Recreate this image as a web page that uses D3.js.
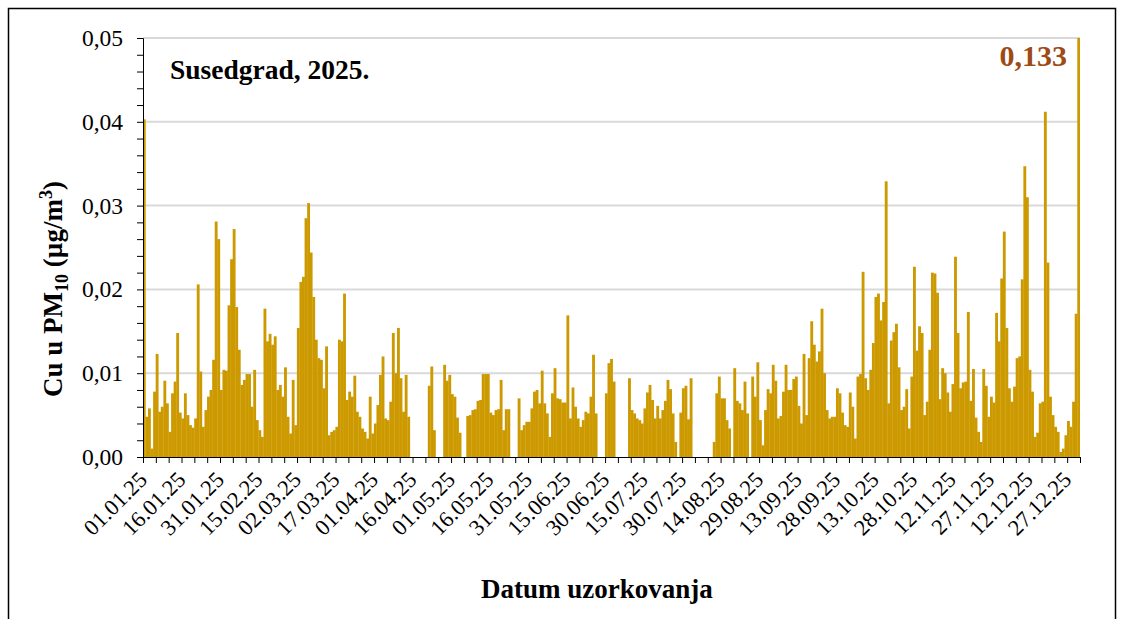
<!DOCTYPE html>
<html>
<head>
<meta charset="utf-8">
<script src="https://cdn.jsdelivr.net/npm/d3@7"></script>
<style>
html,body{margin:0;padding:0;background:#fff;}
svg{display:block;}
</style>
</head>
<body>
<svg id="chart" width="1123" height="619"></svg>
<script>
// Daily Cu concentration in PM10 (µg/m³), Susedgrad 2025 — one array per month, null = no sample
const jan = [0.0403,0.0048,0.0058,0.0010,0.0078,0.0123,0.0054,0.0060,0.0091,0.0064,0.0030,0.0076,0.0090,0.0148,0.0053,0.0046,0.0076,0.0050,0.0038,0.0035,0.0046,0.0206,0.0102,0.0036,0.0056,0.0072,0.0080,0.0116,0.0281,0.0260,0.0080];
const feb = [0.0104,0.0103,0.0181,0.0236,0.0272,0.0179,0.0128,0.0086,0.0092,0.0099,0.0099,0.0060,0.0104,0.0044,0.0032,0.0024,0.0177,0.0138,0.0147,0.0134,0.0144,0.0080,0.0086,0.0072,0.0107,0.0048,0.0028,0.0092];
const mar = [0.0038,0.0154,0.0209,0.0215,0.0285,0.0303,0.0244,0.0191,0.0140,0.0118,0.0116,0.0082,0.0132,0.0026,0.0030,0.0032,0.0036,0.0140,0.0138,0.0195,0.0068,0.0078,0.0072,0.0097,0.0054,0.0048,0.0034,0.0030,0.0022,0.0072,0.0028];
const apr = [0.0040,0.0062,0.0098,0.0120,0.0046,0.0044,0.0066,0.0148,0.0100,0.0154,0.0094,0.0054,0.0098,0.0048,null,null,null,null,null,null,null,0.0085,0.0108,0.0032,null,null,null,0.0110,0.0091,0.0098];
const may = [0.0075,0.0072,0.0047,0.0029,null,null,0.0049,0.0050,0.0056,0.0057,0.0067,0.0068,0.0099,0.0099,0.0099,0.0053,0.0050,0.0056,0.0057,0.0092,0.0032,0.0057,0.0057,null,null,null,0.0070,0.0032,0.0038,0.0042,0.0042];
const jun = [0.0058,0.0078,0.0080,0.0064,0.0103,0.0064,0.0052,0.0024,0.0076,0.0106,0.0070,0.0069,0.0065,0.0065,0.0169,0.0046,0.0083,0.0060,0.0046,0.0036,0.0044,0.0054,0.0052,0.0072,0.0122,0.0052,null,null,null,0.0076];
const jul = [0.0112,0.0117,0.0090,null,null,null,null,null,0.0094,0.0056,0.0052,0.0046,0.0044,0.0040,0.0058,0.0077,0.0086,0.0068,0.0046,0.0061,0.0046,0.0056,0.0067,0.0092,0.0081,0.0052,0.0018,null,0.0053,0.0082,0.0085];
const aug = [0.0045,0.0094,null,null,null,null,null,null,null,null,0.0018,0.0076,0.0096,0.0070,0.0070,0.0044,0.0034,null,0.0106,0.0067,0.0064,0.0056,0.0090,0.0052,null,0.0096,0.0072,0.0113,0.0044,0.0014,0.0056];
const sep = [0.0081,0.0076,0.0110,0.0091,0.0046,0.0049,0.0078,0.0110,0.0080,0.0080,0.0093,0.0096,0.0061,0.0040,0.0123,0.0050,0.0118,0.0162,0.0134,0.0114,0.0126,0.0177,0.0100,0.0056,0.0046,0.0048,0.0048,0.0082,0.0076,0.0053];
const oct = [0.0038,0.0036,0.0077,0.0060,0.0022,0.0096,0.0099,0.0221,0.0094,0.0080,0.0104,0.0136,0.0191,0.0195,0.0163,0.0185,0.0329,0.0064,0.0139,0.0149,0.0159,0.0107,0.0056,0.0060,0.0081,0.0034,0.0096,0.0227,0.0127,0.0156,0.0148];
const nov = [0.0050,0.0066,0.0128,0.0220,0.0219,0.0196,0.0069,0.0106,0.0100,0.0077,0.0054,0.0087,0.0239,0.0148,0.0082,0.0089,0.0090,0.0173,0.0067,0.0105,0.0047,0.0030,0.0018,0.0105,0.0085,0.0048,0.0072,0.0065,0.0172,0.0138];
const dec = [0.0213,0.0269,0.0154,0.0082,0.0066,0.0084,0.0118,0.0120,0.0212,0.0347,0.0310,0.0104,0.0078,0.0024,0.0029,0.0064,0.0066,0.0412,0.0232,0.0072,0.0050,0.0036,0.0030,0.0006,0.0010,0.0026,0.0043,0.0036,0.0066,0.0171,0.133];

// Date labels shown every 15 days on the category axis
const dateLabels = ["01.01.25","16.01.25","31.01.25","15.02.25","02.03.25","17.03.25","01.04.25","16.04.25","01.05.25","16.05.25","31.05.25","15.06.25","30.06.25","15.07.25","30.07.25","14.08.25","29.08.25","13.09.25","28.09.25","13.10.25","28.10.25","12.11.25","27.11.25","12.12.25","27.12.25"];
const yMajorTicks = [0, 0.01, 0.02, 0.03, 0.04, 0.05];

const titleText = "Susedgrad, 2025.";
const xTitle = "Datum uzorkovanja";

const values = [].concat(jan, feb, mar, apr, may, jun, jul, aug, sep, oct, nov, dec);
const nDays = values.length;
const peak = d3.max(values);
const peakIndex = values.indexOf(peak);

const plot = {left: 143, right: 1080, top: 38, bottom: 457};
const serif = "'Liberation Serif','Times New Roman',serif";
const barColor = "#CC9A00";

const svg = d3.select("#chart");

// outer frame
svg.append("rect")
  .attr("x", 8.5).attr("y", 8.5)
  .attr("width", 1107).attr("height", 640)
  .attr("fill", "none").attr("stroke", "#000").attr("stroke-width", 1.5);

const x = d3.scaleLinear().domain([0, nDays]).range([plot.left, plot.right]);
const y = d3.scaleLinear().domain([0, 0.05]).range([plot.bottom, plot.top]);

// horizontal gridlines
svg.append("g")
  .selectAll("line")
  .data(yMajorTicks.filter(d => d > 0))
  .join("line")
  .attr("x1", plot.left).attr("x2", plot.right)
  .attr("y1", d => y(d)).attr("y2", d => y(d))
  .attr("stroke", "#D9D9D9").attr("stroke-width", 2);

svg.append("clipPath").attr("id", "plotClip")
  .append("rect")
  .attr("x", plot.left).attr("y", plot.top)
  .attr("width", plot.right - plot.left).attr("height", plot.bottom - plot.top);

const step = x(1) - x(0);
svg.append("g")
  .attr("clip-path", "url(#plotClip)")
  .selectAll("rect")
  .data(values.map((v, i) => ({i, v})).filter(d => d.v !== null))
  .join("rect")
  .attr("x", d => x(d.i) - 0.15)
  .attr("width", step + 0.3)
  .attr("y", d => y(d.v))
  .attr("height", d => plot.bottom - y(d.v))
  .attr("fill", barColor);

// y axis with minor ticks every 0.002
const fmt = d => d3.format(".2f")(d).replace(".", ",");
const fmt3 = v => d3.format(".3f")(v).replace(".", ",");
const yAxis = d3.axisLeft(y)
  .tickValues(d3.range(0, 26).map(k => k * 0.002))
  .tickFormat(d => (Math.round(d * 1000) % 10 === 0 ? fmt(d) : ""))
  .tickSize(6)
  .tickPadding(14);
const gy = svg.append("g").attr("transform", `translate(${plot.left},0)`).call(yAxis);
gy.select(".domain").attr("stroke", "#000");
gy.selectAll(".tick line").attr("stroke", "#000");
gy.selectAll("text").attr("font-family", serif).attr("font-size", 23.5).attr("fill", "#000");

// x axis: ticks every 5 days, labels every 15 days
const xAxis = d3.axisBottom(x)
  .tickValues(d3.range(0, nDays + 1, 5))
  .tickFormat(d => (d % 15 === 0 && d / 15 < dateLabels.length ? dateLabels[d / 15] : ""))
  .tickSize(6)
  .tickSizeOuter(0);
const gx = svg.append("g").attr("transform", `translate(0,${plot.bottom})`).call(xAxis);
gx.select(".domain").attr("stroke", "#000");
gx.selectAll(".tick line").attr("stroke", "#000");
gx.selectAll("text")
  .attr("font-family", serif).attr("font-size", 22.5).attr("fill", "#000")
  .attr("text-anchor", "end")
  .attr("x", 0).attr("y", 0).attr("dy", 0)
  .attr("transform", "translate(5,24) rotate(-45)");

// chart title inside the plot
svg.append("text")
  .attr("x", 170).attr("y", 79)
  .attr("font-family", serif).attr("font-size", 27.5).attr("font-weight", "bold")
  .text(titleText);

// value of the off-scale bar
svg.append("text")
  .attr("x", x(peakIndex + 1) - 13).attr("y", 66)
  .attr("text-anchor", "end")
  .attr("font-family", serif).attr("font-size", 30).attr("font-weight", "bold")
  .attr("fill", "#9E4A16")
  .text(fmt3(peak));

// axis titles
svg.append("text")
  .attr("x", 597).attr("y", 598)
  .attr("text-anchor", "middle")
  .attr("font-family", serif).attr("font-size", 27).attr("font-weight", "bold")
  .text(xTitle);

const yt = svg.append("text")
  .attr("transform", "translate(62,289) rotate(-90)")
  .attr("text-anchor", "middle")
  .attr("font-family", serif).attr("font-size", 27).attr("font-weight", "bold");
yt.append("tspan").text("Cu u PM");
yt.append("tspan").attr("font-size", 18).attr("dy", 6).text("10");
yt.append("tspan").attr("dy", -6).text(" (µg/m");
yt.append("tspan").attr("font-size", 18).attr("dy", -10).text("3");
yt.append("tspan").attr("dy", 10).text(")");
</script>
</body>
</html>
